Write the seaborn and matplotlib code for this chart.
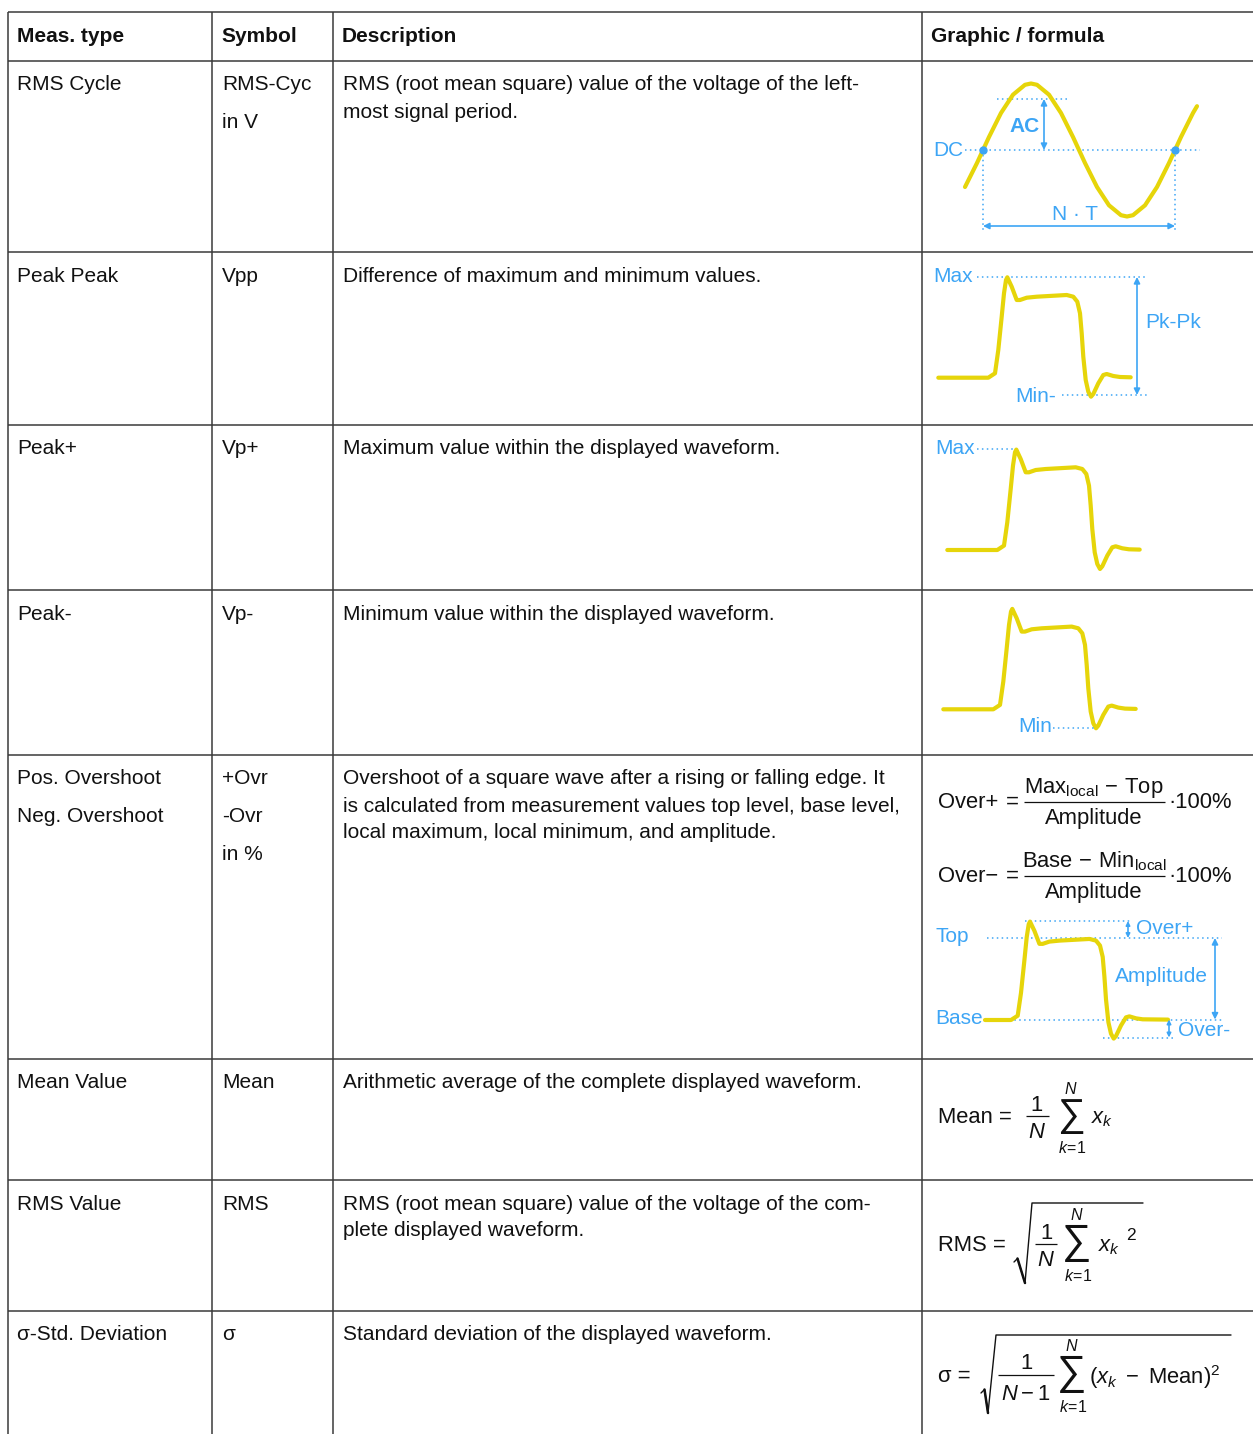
import matplotlib
matplotlib.use("Agg")
import matplotlib.pyplot as plt
from matplotlib.textpath import TextPath
from matplotlib.font_manager import FontProperties
import seaborn as sns

# ---------------------------------------------------------------
# table content
header = ["Meas. type", "Symbol", "Description", "Graphic / formula"]
meas_types = ["RMS Cycle", "Peak Peak", "Peak+", "Peak-",
              "Pos. Overshoot\nNeg. Overshoot", "Mean Value", "RMS Value",
              "σ-Std. Deviation"]
symbols = ["RMS-Cyc\nin V", "Vpp", "Vp+", "Vp-", "+Ovr\n-Ovr\nin %", "Mean", "RMS", "σ"]
descriptions = [
    "RMS (root mean square) value of the voltage of the left-\nmost signal period.",
    "Difference of maximum and minimum values.",
    "Maximum value within the displayed waveform.",
    "Minimum value within the displayed waveform.",
    "Overshoot of a square wave after a rising or falling edge. It\n"
    "is calculated from measurement values top level, base level,\n"
    "local maximum, local minimum, and amplitude.",
    "Arithmetic average of the complete displayed waveform.",
    "RMS (root mean square) value of the voltage of the com-\nplete displayed waveform.",
    "Standard deviation of the displayed waveform.",
]

# yellow example waveforms (pixel units)
sine_x = [965, 977, 989, 1001, 1013, 1025, 1031, 1037, 1049, 1061, 1073, 1085,
          1097, 1109, 1121, 1127, 1133, 1145, 1157, 1169, 1181, 1193, 1197]
sine_y = [187.0, 163.0, 137.0, 113.0, 94.7, 84.8, 83.5, 84.8, 94.7, 113.0, 137.0,
          163.0, 187.0, 205.3, 215.2, 216.5, 215.2, 205.3, 187.0, 163.0, 137.0,
          113.0, 106.2]
pulse_dx = [0, 50.0, 56.7, 60.0, 63.4, 65.7, 67.7, 69.0, 73.4, 78.4, 81.7, 88.4,
            98.4, 128.4, 135.0, 139.0, 141.7, 143.4, 145.0, 147.4, 150.0, 152.7,
            155.0, 160.0, 165.0, 168.4, 175.0, 181.7, 192.4]
pulse_dy = [0, 0, -4.4, -27.7, -61.0, -84.4, -97.7, -100.4, -91.0, -77.7, -77.7,
            -80.0, -81.0, -82.7, -81.0, -76.0, -64.4, -44.4, -21.0, 2.3, 14.0,
            19.0, 16.3, 5.6, -2.7, -3.7, -1.7, -0.7, -0.4]

# ---------------------------------------------------------------
sns.set_theme(style="white")
plt.rcParams["font.family"] = ["Liberation Sans", "DejaVu Sans"]
plt.rcParams["mathtext.fontset"] = "custom"
plt.rcParams["mathtext.rm"] = "Liberation Sans"
plt.rcParams["mathtext.it"] = "Liberation Sans:italic"
plt.rcParams["mathtext.bf"] = "Liberation Sans:bold"

W, H = 1253, 1434
BLUE = "#3da5f5"
YEL = "#e6d50a"
GRID = "#3a3a3a"
INK = "#111111"
FS = 15      # table text
MF = 15.8    # formula text
SF = 11.5    # sum limits

fig = plt.figure(figsize=(W / 100, H / 100), dpi=100)
ax = fig.add_axes([0, 0, 1, 1])

# table grid
col_x = [8, 212, 333, 922]
row_tops = [61, 252, 425, 590, 755, 1059, 1180, 1311]
ax.hlines([12] + row_tops, 8, W, color=GRID, lw=1.1)
ax.vlines(col_x, 12, H, color=GRID, lw=1.1)

# header
for cx, txt in zip(col_x, header):
    ax.text(cx + 9, 36, txt, fontsize=FS, fontweight="bold", va="center", color=INK)

# body text
for i, top in enumerate(row_tops):
    y0 = top + 24
    for j, line in enumerate(meas_types[i].split("\n")):
        ax.text(17, y0 + j * 38, line, fontsize=FS, va="center", color=INK)
    for j, line in enumerate(symbols[i].split("\n")):
        ax.text(222, y0 + j * 37.5, line, fontsize=FS, va="center", color=INK)
    for j, line in enumerate(descriptions[i].split("\n")):
        ax.text(343, y0 + j * 27, line, fontsize=FS, va="center", color=INK)


def wave(xs, ys):
    sns.lineplot(x=xs, y=ys, sort=False, estimator=None, color=YEL, lw=3.0,
                 ax=ax, legend=False)


def dots(x1, y1, x2, y2):
    ax.plot([x1, x2], [y1, y2], ls=(0, (1, 2.2)), color=BLUE, lw=1.1)


def arrow(x1, y1, x2, y2, size=9):
    ax.annotate("", xy=(x2, y2), xytext=(x1, y1),
                arrowprops=dict(arrowstyle="<|-|>", color=BLUE, lw=1.2,
                                shrinkA=0, shrinkB=0, mutation_scale=size))


def label(x, y, txt, **kw):
    ax.text(x, y, txt, fontsize=FS, color=BLUE, va="center", **kw)


def pulse(x0, y0, sx=1.0, sy=1.0, start=None, end=None):
    xs = [x0 + d * sx for d in pulse_dx]
    ys = [y0 + d * sy for d in pulse_dy]
    if start is not None:
        xs[0] = start
    if end is not None:
        xs[-1] = end
    wave(xs, ys)


# formula helpers (y = baseline in pixels)
def ft(x, y, s, size=MF, ha="left"):
    ax.text(x, y, s, fontsize=size, va="baseline", ha=ha, color=INK)


def bar(x1, x2, y):
    ax.plot([x1, x2], [y, y], color=INK, lw=0.9, solid_capstyle="butt")


sum_ext = TextPath((0, 0), "∑", size=1,
                   prop=FontProperties(family="Liberation Sans")).get_extents()


def big_sum(xc, ytop, ybot, bot=r"$k\!=\!1$"):
    em = (ybot - ytop) / sum_ext.height
    base = ybot + sum_ext.y0 * em
    ax.text(xc, base, "∑", fontsize=em * 0.72, va="baseline", ha="center", color=INK)
    ax.text(xc, ytop - 5, r"$N$", fontsize=SF, va="baseline", ha="center", color=INK)
    ax.text(xc + 1, ybot + 19, bot, fontsize=SF, va="baseline", ha="center", color=INK)


def radical(x0, y0, xb, yb, xt, yt, xend):
    ax.plot([x0, x0 + 3.5, xb], [y0, y0 - 3.5, yb], color=INK, lw=1.0)
    ax.plot([x0 + 3.5, xb], [y0 - 3.5, yb], color=INK, lw=1.8)
    ax.plot([xb, xt, xend], [yb, yt, yt], color=INK, lw=1.0)


# RMS cycle: sine
dots(965, 150, 1200, 150)
dots(997, 99, 1069, 99)
dots(983, 150, 983, 233)
dots(1175, 150, 1175, 233)
wave(sine_x, sine_y)
ax.plot([983, 1175], [150, 150], "o", color=BLUE, ms=5)
arrow(1044, 99, 1044, 150)
arrow(983, 226, 1175, 226)
label(933, 151, "DC")
label(1025, 126, "AC", fontweight="bold", ha="center")
label(1075, 214, "N · T", ha="center")

# Peak Peak
dots(977, 277, 1147, 277)
dots(1062, 395, 1147, 395)
pulse(938.3, 377.7)
arrow(1137, 277, 1137, 395)
label(933, 277, "Max")
label(1015, 397, "Min-")
label(1145, 323, "Pk-Pk")

# Peak+
dots(977, 449, 1016, 449)
pulse(947.3, 550)
label(935, 449, "Max")

# Peak-
pulse(943.3, 709.3)
dots(1053, 727.5, 1097, 727.5)
label(1018, 727, "Min")

# Overshoot formulas
for dy, head, num in [(0, "Over+", r"$\mathrm{Max}_{\mathrm{local}}\,-\,\mathrm{Top}$"),
                      (74, "Over−", r"$\mathrm{Base}\,-\,\mathrm{Min}_{\mathrm{local}}$")]:
    ft(938, 808 + dy, head)
    ft(1006, 808 + dy, "=")
    ft(1094, 793 + dy, num, ha="center")
    bar(1024, 1165, 802 + dy)
    ft(1094, 824 + dy, "Amplitude", ha="center")
    ft(1168, 808 + dy, "·100%")

# Overshoot diagram
dots(1025, 921, 1130, 921)
dots(987, 938, 1222, 938)
dots(985, 1019.5, 1222, 1019.5)
dots(1103, 1037.5, 1173, 1037.5)
pulse(961, 1020, 1.0, 0.98, start=985, end=1168)
arrow(1215, 938, 1215, 1019.5)
arrow(1128, 921, 1128, 938, size=6)
arrow(1169, 1019.5, 1169, 1037.5, size=6)
label(935, 937, "Top")
label(935, 1018, "Base")
label(1136, 929, "Over+")
label(1115, 977, "Amplitude")
label(1178, 1031, "Over-")

# Mean
ft(938, 1123, "Mean =")
ft(1037, 1111, "1", ha="center")
bar(1026, 1049, 1116)
ft(1037, 1138, r"$N$", ha="center")
big_sum(1071, 1099, 1134)
ft(1091, 1123, r"$x_k$")

# RMS
ft(938, 1251, "RMS =")
radical(1014, 1262, 1025, 1283, 1032, 1203, 1143)
ft(1046, 1239, "1", ha="center")
bar(1035, 1057, 1244)
ft(1046, 1266, r"$N$", ha="center")
big_sum(1077, 1225, 1262)
ft(1098, 1251, r"$x_k$")
ft(1126, 1240, "2", size=SF + 1)

# sigma
ft(938, 1382, "σ =")
radical(981, 1393, 988, 1413, 996, 1335, 1231)
ft(1026, 1369, "1", ha="center")
bar(998, 1054, 1375)
ft(1026, 1400, r"$N-1$", ha="center")
big_sum(1072, 1356, 1393)
ft(1089, 1384, r"$(x_k\ -\ \mathrm{Mean})^2$")

ax.set_xlim(0, W)
ax.set_ylim(H, 0)
ax.axis("off")
fig.savefig("out.png", dpi=100)
